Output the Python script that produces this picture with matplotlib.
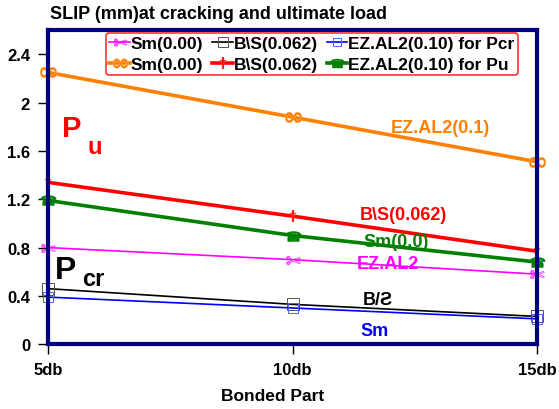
import matplotlib
matplotlib.use('Agg')
import matplotlib.pyplot as plt

# bonded length (db) and slip values (mm)
bonded = [5, 10, 15]
xticklabels = ['5db', '10db', '15db']

sm_pcr = [0.80, 0.70, 0.58]
bs_pcr = [0.46, 0.33, 0.23]
ez_pcr = [0.39, 0.30, 0.21]
sm_pu = [2.25, 1.88, 1.51]
bs_pu = [1.34, 1.06, 0.77]
ez_pu = [1.19, 0.90, 0.68]

plt.rcParams['font.family'] = ['Liberation Sans', 'DejaVu Sans']
plt.rcParams['font.weight'] = 'bold'

fig = plt.figure(figsize=(5.59, 4.10), dpi=100)
ax = fig.add_axes([0.086, 0.158, 0.875, 0.766])

navy = '#000080'
ax.plot(bonded, sm_pcr, color='magenta', lw=1.2, marker='$\u2702$', ms=10,
        mfc='none', mec='magenta', mew=0.4, clip_on=False, label='Sm(0.00)')
ax.plot(bonded, sm_pu, color='#ff8000', lw=2.6, marker='$\u221e$', ms=12,
        mec='#ffb070', mew=0.3, clip_on=False, label='Sm(0.00)')
ax.plot(bonded, bs_pcr, color='black', lw=1.2, marker='s', ms=8,
        mfc='none', mec='#555555', mew=0.7, clip_on=False, label='B\\S(0.062)')
ax.plot(bonded, bs_pu, color='red', lw=2.6, marker='$\u2020$', ms=9,
        mec='#ff8080', mew=0.3, clip_on=False, label='B\\S(0.062)')
ax.plot(bonded, ez_pcr, color='blue', lw=1.2, marker='s', ms=7,
        mfc='none', mec='#5060ff', mew=0.7, clip_on=False, label='EZ.AL2(0.10) for Pcr')
ax.plot(bonded, ez_pu, color='green', lw=2.6, marker='$\u260e$', ms=11,
        mec='green', mew=0.3, clip_on=False, label='EZ.AL2(0.10) for Pu')

ax.set_xlim(5, 15)
ax.set_ylim(0, 2.6)
ax.set_xticks(bonded)
ax.set_xticklabels(xticklabels)
ax.set_yticks([0, 0.4, 0.8, 1.2, 1.6, 2.0, 2.4])
ax.set_yticklabels(['0', '0.4', '0.8', '1.2', '1.6', '2', '2.4'])
ax.tick_params(axis='both', labelsize=12, length=7, width=1, direction='out', pad=6)
for lab in ax.get_xticklabels() + ax.get_yticklabels():
    lab.set_fontweight('bold')
for s in ax.spines.values():
    s.set_color(navy)
    s.set_linewidth(3)

ax.set_xlabel('Bonded Part', fontsize=12.5, fontweight='bold')
ax.xaxis.set_label_coords(0.46, -0.14)
fig.text(0.09, 0.965, 'SLIP (mm)at cracking and ultimate load', fontsize=13,
         fontweight='bold', va='center')

leg = ax.legend(ncol=3, loc='upper right', bbox_to_anchor=(0.968, 1.003), fontsize=12.5,
                frameon=True, fancybox=True, handlelength=1.2, handletextpad=0.05,
                columnspacing=0.5, borderpad=0.2, labelspacing=0.3, markerscale=0.9,
                borderaxespad=0.2)
leg.get_frame().set_edgecolor('red')
leg.get_frame().set_linewidth(1.2)
for t in leg.get_texts():
    t.set_fontweight('bold')

# region and series labels
ax.text(5.28, 1.72, 'P', color='red', fontsize=21, fontweight='bold')
ax.text(5.8, 1.58, 'u', color='red', fontsize=17, fontweight='bold')
ax.text(5.14, 0.55, 'P', color='black', fontsize=23, fontweight='bold')
ax.text(5.7, 0.49, 'cr', color='black', fontsize=17, fontweight='bold')
ax.text(12.0, 1.76, 'EZ.AL2(0.1)', color='#ff8000', fontsize=13, fontweight='bold')
ax.text(11.38, 1.04, 'B\\S(0.062)', color='red', fontsize=13, fontweight='bold')
ax.text(11.44, 0.81, 'Sm(0.0)', color='green', fontsize=13, fontweight='bold')
ax.text(11.32, 0.635, 'EZ.AL2', color='magenta', fontsize=13, fontweight='bold')
ax.text(11.44, 0.33, 'B/Ƨ', color='black', fontsize=13, fontweight='bold')
ax.text(11.38, 0.08, 'Sm', color='blue', fontsize=13, fontweight='bold')

fig.savefig('out.png', dpi=100)
plt.close(fig)
